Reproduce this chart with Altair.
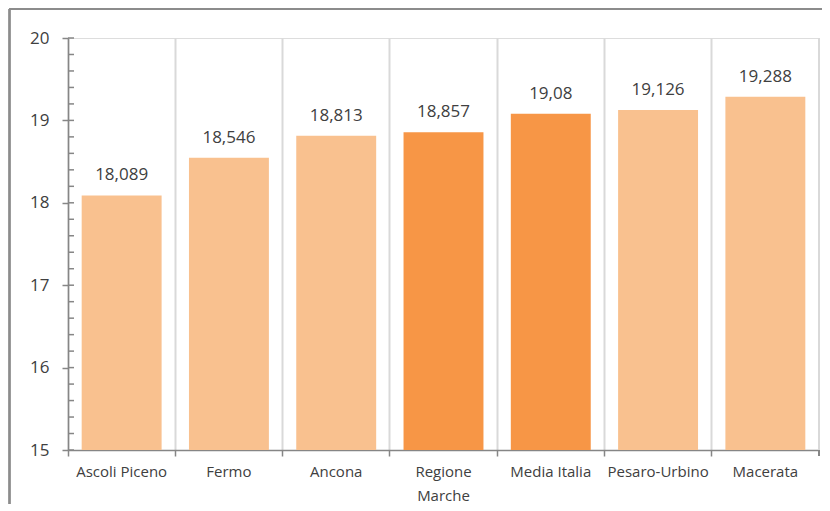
import altair as alt
import pandas as pd

categories = ["Ascoli Piceno", "Fermo", "Ancona", "Regione Marche", "Media Italia", "Pesaro-Urbino", "Macerata"]
values = [18.089, 18.546, 18.813, 18.857, 19.08, 19.126, 19.288]
highlight = [False, False, False, True, True, False, False]
minor_ticks = [15.0, 15.2, 15.4, 15.6, 15.8, 16.0, 16.2, 16.4, 16.6, 16.8, 17.0, 17.2, 17.4, 17.6, 17.8,
               18.0, 18.2, 18.4, 18.6, 18.8, 19.0, 19.2, 19.4, 19.6, 19.8, 20.0]
y_ticks = [15, 16, 17, 18, 19, 20]

W, H = 751, 412
FONT = "Open Sans"
TXT = "#404040"
AXC = "#868686"
GRID = "#D9D9D9"
LIGHT = "#F9C18F"
DARK = "#F79646"

df = pd.DataFrame({"cat": categories, "v": values, "hl": highlight})
df["lab"] = [str(v).replace(".", ",") for v in values]

xenc = alt.X("cat:N", sort=categories, title=None,
             scale=alt.Scale(paddingInner=0, paddingOuter=0),
             axis=alt.Axis(bandPosition=0, grid=True, gridColor=GRID, gridWidth=2,
                           domainColor=AXC, domainWidth=1.5, tickColor=AXC, tickWidth=1.5, tickSize=6,
                           labelAngle=0, labelFont=FONT, labelFontSize=15, labelColor=TXT,
                           labelPadding=8, labelLineHeight=24,
                           labelExpr="datum.value == 'Regione Marche' ? ['Regione', 'Marche'] : datum.value"))
yscale = alt.Scale(domain=[15, 20], nice=False, zero=False)
yenc = alt.Y("v:Q", scale=yscale, title=None,
             axis=alt.Axis(values=y_ticks, format="d", grid=False, domainColor=AXC, domainWidth=1.5,
                           tickColor=AXC, tickWidth=1.5, tickSize=6, labelFont=FONT,
                           labelFontSize=17, labelColor=TXT, labelPadding=13))

base = alt.Chart(df)
bars = base.mark_bar(width=alt.RelativeBandSize(0.745)).encode(
    x=xenc, y=yenc, y2=alt.datum(15),
    color=alt.Color("hl:N", scale=alt.Scale(domain=[False, True], range=[LIGHT, DARK]), legend=None),
)
labels = base.mark_text(font=FONT, fontSize=17, color=TXT, baseline="alphabetic", dy=-15).encode(
    x=alt.X("cat:N", sort=categories), y=alt.Y("v:Q", scale=yscale), text="lab:N"
)
minor = alt.Chart(pd.DataFrame({"t": minor_ticks})).mark_rule(color=AXC, strokeWidth=1.5).encode(
    y=alt.Y("t:Q", scale=yscale), x=alt.value(0), x2=alt.value(6)
)
right_grid = alt.Chart(df).mark_rule(color=GRID, strokeWidth=2).encode(
    x=alt.value(W), y=alt.value(0), y2=alt.value(H)
)
right_tick = alt.Chart(df).mark_rule(color=AXC, strokeWidth=1.5).encode(
    x=alt.value(W), y=alt.value(H), y2=alt.value(H + 6)
)
frame_left = alt.Chart(df).mark_rule(color="#8C8C8C", strokeWidth=1.5).encode(
    x=alt.value(-58.5), y=alt.value(-29), y2=alt.value(H + 80)
)
frame_top = alt.Chart(df).mark_rule(color="#8C8C8C", strokeWidth=1.5).encode(
    x=alt.value(-58.5), x2=alt.value(W + 80), y=alt.value(-29)
)

chart = alt.layer(right_grid, bars, labels, minor, right_tick, frame_left, frame_top).properties(
    width=W, height=H,
    autosize=alt.AutoSizeParams(type="none"),
    padding={"left": 60, "top": 30, "right": 3, "bottom": 54},
).configure_view(stroke=None).configure(background="white")

chart.save("out.html", embed_options={"renderer": "svg", "actions": False})
